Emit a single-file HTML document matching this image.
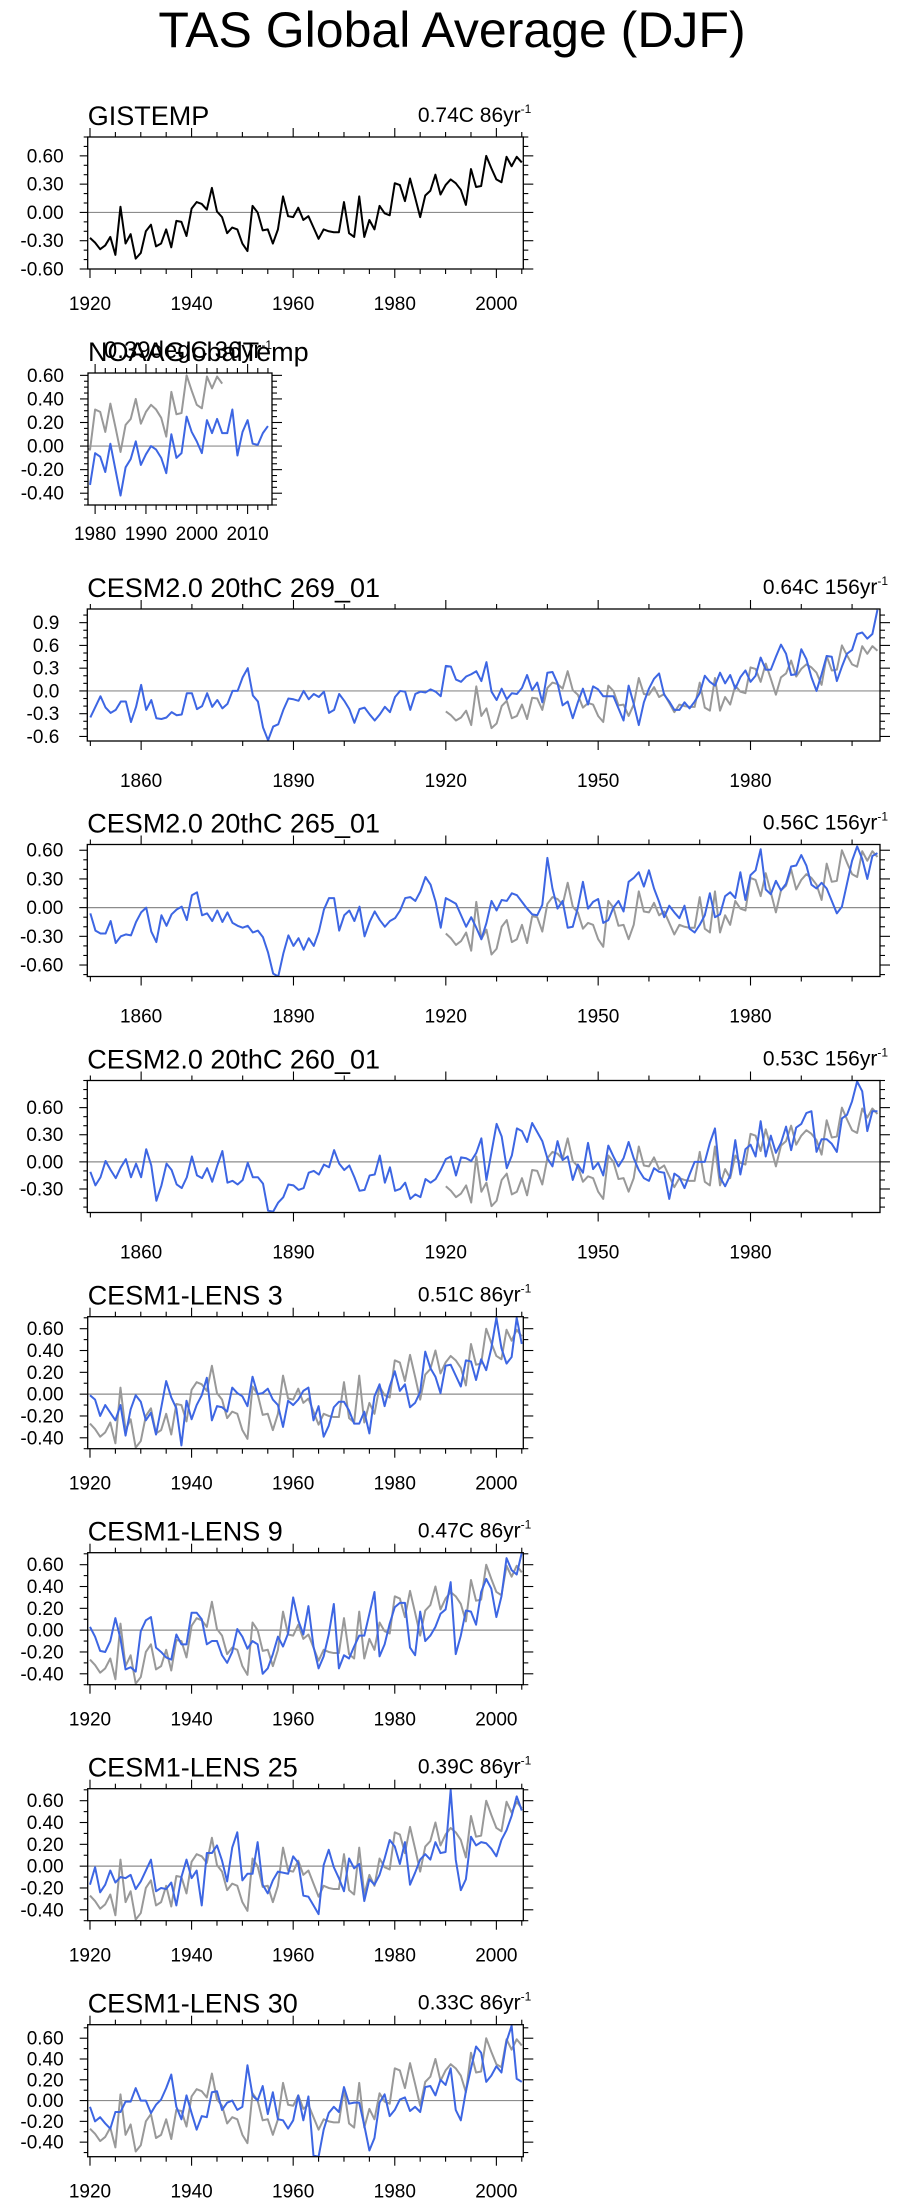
<!DOCTYPE html>
<html>
<head>
<meta charset="utf-8">
<style>
html,body{margin:0;padding:0;background:#fff;}
svg{display:block;font-family:"Liberation Sans",Arial,sans-serif;}
</style>
</head>
<body>
<svg id="chart" width="905" height="2207" viewBox="0 0 905 2207" xmlns="http://www.w3.org/2000/svg">
<text x="452" y="47" text-anchor="middle" font-size="50">TAS Global Average (DJF)</text>
</svg>
<script>
// ---------- data ----------
const gistempStart = 1920;
const gistemp = [-0.27,-0.32,-0.39,-0.35,-0.26,-0.45,0.06,-0.33,-0.23,-0.49,-0.43,-0.20,-0.13,-0.36,-0.33,-0.18,-0.37,-0.09,-0.10,-0.25,0.04,0.11,0.09,0.03,0.26,0.01,-0.05,-0.22,-0.16,-0.18,-0.33,-0.41,0.07,0.00,-0.19,-0.18,-0.33,-0.18,0.17,-0.04,-0.05,0.05,-0.08,-0.04,-0.16,-0.28,-0.18,-0.20,-0.21,-0.21,0.11,-0.22,-0.26,0.17,-0.26,-0.08,-0.18,0.07,-0.01,-0.03,0.31,0.29,0.12,0.36,0.16,-0.05,0.18,0.23,0.40,0.19,0.29,0.35,0.31,0.24,0.08,0.46,0.27,0.28,0.60,0.47,0.35,0.32,0.59,0.49,0.59,0.53];
const noaaStart = 1979;
const noaa = [-0.33,-0.06,-0.09,-0.22,0.02,-0.20,-0.42,-0.18,-0.11,0.04,-0.16,-0.07,0.00,-0.03,-0.10,-0.23,0.10,-0.10,-0.06,0.25,0.12,0.04,-0.06,0.22,0.11,0.23,0.11,0.11,0.31,-0.08,0.12,0.22,0.02,0.01,0.11,0.17];
const cesm2Start = 1850;
const cesm2_269 = [-0.35,-0.21,-0.07,-0.22,-0.29,-0.25,-0.14,-0.14,-0.41,-0.21,0.08,-0.25,-0.12,-0.36,-0.37,-0.35,-0.28,-0.32,-0.31,-0.03,-0.03,-0.24,-0.20,-0.03,-0.21,-0.12,-0.23,-0.17,0.00,0.00,0.18,0.30,-0.06,-0.14,-0.48,-0.65,-0.47,-0.44,-0.25,-0.10,-0.11,-0.13,0.00,-0.11,-0.04,-0.08,-0.01,-0.29,-0.25,-0.04,-0.13,-0.24,-0.42,-0.24,-0.22,-0.31,-0.39,-0.31,-0.21,-0.28,-0.08,0.00,-0.01,-0.25,-0.04,-0.01,-0.02,0.02,-0.01,-0.07,0.33,0.32,0.15,0.12,0.19,0.22,0.26,0.13,0.38,-0.01,-0.12,0.03,-0.11,-0.03,-0.04,0.04,0.21,0.01,0.11,-0.15,0.24,0.25,0.10,-0.19,-0.14,-0.36,-0.15,0.03,-0.18,0.06,0.02,-0.07,-0.07,-0.07,-0.23,-0.39,0.07,-0.17,-0.45,-0.15,0.03,0.16,0.23,-0.05,-0.14,-0.25,-0.25,-0.15,-0.23,-0.14,-0.03,0.20,0.12,0.07,0.24,0.10,0.21,0.03,0.18,0.27,0.12,0.20,0.44,0.28,0.28,0.45,0.61,0.49,0.21,0.22,0.55,0.42,0.18,0.00,0.22,0.46,0.45,0.13,0.32,0.49,0.54,0.75,0.77,0.69,0.75,1.07];
const cesm2_265 = [-0.06,-0.24,-0.27,-0.27,-0.14,-0.37,-0.30,-0.28,-0.29,-0.15,-0.05,0.00,-0.25,-0.36,-0.08,-0.19,-0.07,-0.02,0.01,-0.13,0.13,0.16,-0.08,-0.06,-0.14,-0.03,-0.15,-0.05,-0.16,-0.19,-0.21,-0.19,-0.26,-0.24,-0.31,-0.47,-0.69,-0.72,-0.48,-0.29,-0.40,-0.32,-0.44,-0.32,-0.40,-0.25,-0.02,0.10,0.10,-0.24,-0.08,-0.03,-0.14,0.01,-0.30,-0.15,-0.04,-0.13,-0.20,-0.14,-0.11,-0.03,0.10,0.11,0.07,0.17,0.32,0.24,0.06,-0.21,0.10,0.07,0.04,-0.08,-0.20,-0.10,-0.21,-0.33,-0.16,0.07,-0.03,0.08,0.07,0.15,0.13,0.06,-0.01,-0.07,-0.08,0.03,0.52,0.20,-0.01,0.07,-0.21,-0.20,0.00,0.27,-0.01,0.06,0.09,-0.16,-0.13,0.00,0.07,-0.04,0.27,0.31,0.37,0.22,0.39,0.20,0.06,-0.10,0.02,-0.05,-0.11,0.02,-0.22,-0.26,-0.18,-0.08,0.15,-0.10,-0.07,0.12,0.16,0.10,0.37,0.08,0.34,0.39,0.61,0.19,0.14,0.28,0.18,0.25,0.43,0.44,0.55,0.44,0.24,0.20,0.26,0.20,0.07,-0.06,0.01,0.25,0.49,0.64,0.51,0.30,0.54,0.57];
const cesm2_260 = [-0.11,-0.26,-0.17,0.01,-0.09,-0.18,-0.06,0.03,-0.17,-0.02,-0.17,0.14,-0.04,-0.43,-0.26,-0.02,-0.09,-0.25,-0.29,-0.17,0.06,-0.15,-0.18,-0.07,-0.22,-0.04,0.12,-0.23,-0.21,-0.25,-0.20,-0.01,-0.17,-0.17,-0.24,-0.54,-0.55,-0.45,-0.39,-0.25,-0.26,-0.31,-0.29,-0.12,-0.10,-0.14,-0.03,-0.06,0.13,-0.02,-0.09,-0.04,-0.17,-0.32,-0.31,-0.15,-0.14,0.07,-0.23,-0.06,-0.32,-0.30,-0.23,-0.41,-0.36,-0.39,-0.19,-0.23,-0.19,-0.09,0.03,0.06,-0.15,0.05,0.04,0.01,0.10,0.26,-0.20,0.11,0.42,0.28,-0.07,0.07,0.37,0.34,0.22,0.43,0.33,0.23,0.04,-0.05,0.23,0.02,0.06,-0.20,-0.03,-0.12,0.21,-0.08,-0.01,-0.15,0.18,0.06,-0.05,0.04,0.22,0.04,-0.09,-0.18,-0.21,-0.07,-0.11,-0.12,-0.41,-0.13,-0.17,-0.29,-0.14,0.00,0.00,0.00,0.21,0.37,-0.17,-0.27,-0.15,0.24,-0.14,0.14,0.19,0.06,0.45,0.06,0.29,0.10,0.21,0.39,0.13,0.38,0.42,0.54,0.56,0.11,0.25,0.25,0.20,0.11,0.48,0.52,0.67,0.89,0.78,0.34,0.56,0.56];
const lensStart = 1920;
const lens3 = [-0.01,-0.05,-0.20,-0.10,-0.17,-0.24,-0.10,-0.38,-0.14,-0.01,-0.07,-0.24,-0.17,-0.37,-0.13,0.12,-0.03,-0.13,-0.47,-0.06,-0.23,-0.10,-0.01,0.15,-0.24,-0.11,-0.12,-0.16,0.06,0.01,-0.02,-0.11,0.16,0.00,0.01,0.05,-0.05,-0.10,-0.30,-0.06,-0.10,-0.05,0.03,0.06,-0.24,-0.11,-0.39,-0.29,-0.12,-0.07,-0.07,-0.15,-0.27,-0.27,-0.16,-0.36,-0.02,0.09,-0.11,0.07,0.21,0.03,0.09,-0.12,-0.08,0.02,0.39,0.24,0.16,0.01,0.26,0.27,0.17,0.07,0.31,0.30,0.13,0.32,0.22,0.42,0.70,0.42,0.28,0.34,0.70,0.46];
const lens9 = [0.03,-0.06,-0.19,-0.20,-0.10,0.11,-0.08,-0.36,-0.34,-0.38,-0.01,0.09,0.12,-0.16,-0.20,-0.25,-0.27,-0.04,-0.13,-0.13,0.16,0.16,0.10,-0.13,-0.10,-0.10,-0.23,-0.30,-0.20,0.01,-0.06,-0.17,-0.10,-0.13,-0.40,-0.35,-0.22,-0.06,-0.15,-0.03,0.30,0.09,-0.04,0.22,-0.15,-0.35,-0.24,-0.04,0.24,-0.35,-0.23,-0.26,-0.15,-0.05,-0.05,0.15,0.35,-0.24,-0.13,0.06,0.21,0.25,0.25,-0.16,-0.23,0.17,-0.10,-0.05,0.03,0.15,0.19,0.44,-0.22,-0.05,0.18,0.17,0.05,0.35,0.47,0.38,0.12,0.31,0.66,0.55,0.51,0.71];
const lens25 = [-0.17,-0.01,-0.24,-0.17,-0.04,-0.15,-0.10,-0.11,-0.08,-0.21,-0.14,-0.04,0.06,-0.23,-0.20,-0.21,-0.15,-0.36,-0.10,0.06,-0.11,-0.04,-0.36,0.12,0.12,0.19,0.05,-0.14,0.17,0.31,-0.13,-0.07,-0.07,0.22,-0.17,-0.25,-0.13,-0.05,-0.06,-0.07,0.09,0.03,-0.27,-0.28,-0.36,-0.44,0.01,0.15,-0.01,-0.11,-0.23,0.07,-0.02,0.02,-0.32,-0.12,-0.17,-0.08,0.07,0.24,0.18,0.02,0.22,-0.17,-0.06,0.06,0.11,0.06,0.22,0.12,0.13,0.70,0.06,-0.22,-0.12,0.27,0.19,0.22,0.21,0.16,0.09,0.24,0.33,0.46,0.64,0.51];
const lens30 = [-0.06,-0.20,-0.16,-0.22,-0.27,-0.11,-0.11,-0.01,-0.01,0.12,0.00,0.00,-0.12,-0.04,0.01,0.12,0.25,-0.06,-0.18,0.05,-0.12,-0.28,-0.15,-0.16,0.08,0.09,-0.09,-0.02,0.00,-0.09,-0.06,0.34,0.05,0.00,0.14,-0.13,0.08,-0.18,-0.19,-0.27,-0.19,0.05,-0.19,0.04,-0.53,-0.54,-0.28,-0.12,-0.06,-0.11,0.13,-0.03,-0.02,-0.02,-0.24,-0.48,-0.36,-0.02,0.06,-0.15,-0.09,0.01,0.03,-0.10,-0.06,-0.11,0.13,0.14,0.05,0.20,0.15,0.31,-0.09,-0.19,0.09,0.31,0.52,0.46,0.18,0.24,0.33,0.27,0.57,0.72,0.21,0.18];

// tick labels
const yLab1 = ["0.60","0.30","0.00","-0.30","-0.60"];
const yLab2 = ["0.60","0.40","0.20","0.00","-0.20","-0.40"];
const yLab3 = ["0.9","0.6","0.3","0.0","-0.3","-0.6"];
const yLab4 = ["0.60","0.30","0.00","-0.30","-0.60"];
const yLab5 = ["0.60","0.30","0.00","-0.30"];
const yLabLens = ["0.60","0.40","0.20","0.00","-0.20","-0.40"];
const xLab86 = ["1920","1940","1960","1980","2000"];
const xLabNoaa = ["1980","1990","2000","2010"];
const xLab156 = ["1860","1890","1920","1950","1980"];

const BLUE = "#3d66e3", GRAY = "#999999", BLACK = "#000000";
const svg = document.getElementById('chart');
const NS = "http://www.w3.org/2000/svg";

function mk(tag, attrs, parent){
  const el = document.createElementNS(NS, tag);
  for (const k in attrs) el.setAttribute(k, attrs[k]);
  (parent || svg).appendChild(el);
  return el;
}

const panels = [
 {id:"gistemp", title:"GISTEMP", rt:"0.74C 86yr", rtSize:21, rtX:8, top:137, left:87.7, right:523.3, x0:1919.55, x1:2005.3, y0:-0.6, y1:0.8, yLab:yLab1, yMinor:0.1, xLab:xLab86, xMinor:5, lOff:34, yGap:24,
  series:[{start:gistempStart, vals:gistemp, color:BLACK, name:"gistemp-line"}]},
 {id:"noaa", title:"NOAAGlobalTemp", rt:"0.39degC 36yr", rtSize:24, rtX:0, top:373, left:88, right:272, x0:1978.6, x1:2014.8, y0:-0.5, y1:0.62, yLab:yLab2, yMinor:0.05, xLab:xLabNoaa, xMinor:2, lOff:28, yGap:24,
  series:[{start:gistempStart, vals:gistemp, color:GRAY, name:"gistemp-reference-line"},{start:noaaStart, vals:noaa, color:BLUE, name:"noaa-line"}]},
 {id:"cesm2-269", title:"CESM2.0 20thC 269_01", rt:"0.64C 156yr", rtSize:21, rtX:8, top:609, left:87.3, right:880, x0:1849.4, x1:2005.5, y0:-0.66, y1:1.08, yLab:yLab3, yMinor:0.1, xLab:xLab156, xMinor:10, lOff:39, yGap:28,
  series:[{start:gistempStart, vals:gistemp, color:GRAY, name:"gistemp-reference-line"},{start:cesm2Start, vals:cesm2_269, color:BLUE, name:"cesm2-269-line"}]},
 {id:"cesm2-265", title:"CESM2.0 20thC 265_01", rt:"0.56C 156yr", rtSize:21, rtX:8, top:844.5, left:87.3, right:880, x0:1849.4, x1:2005.5, y0:-0.72, y1:0.66, yLab:yLab4, yMinor:0.1, xLab:xLab156, xMinor:10, lOff:39, yGap:24,
  series:[{start:gistempStart, vals:gistemp, color:GRAY, name:"gistemp-reference-line"},{start:cesm2Start, vals:cesm2_265, color:BLUE, name:"cesm2-265-line"}]},
 {id:"cesm2-260", title:"CESM2.0 20thC 260_01", rt:"0.53C 156yr", rtSize:21, rtX:8, top:1080.5, left:87.3, right:880, x0:1849.4, x1:2005.5, y0:-0.56, y1:0.90, yLab:yLab5, yMinor:0.1, xLab:xLab156, xMinor:10, lOff:39, yGap:24,
  series:[{start:gistempStart, vals:gistemp, color:GRAY, name:"gistemp-reference-line"},{start:cesm2Start, vals:cesm2_260, color:BLUE, name:"cesm2-260-line"}]},
 {id:"lens3", title:"CESM1-LENS 3", rt:"0.51C 86yr", rtSize:21, rtX:8, top:1316.7, left:87.7, right:523.3, x0:1919.55, x1:2005.3, y0:-0.50, y1:0.71, yLab:yLabLens, yMinor:0.1, xLab:xLab86, xMinor:5, lOff:34, yGap:24,
  series:[{start:gistempStart, vals:gistemp, color:GRAY, name:"gistemp-reference-line"},{start:lensStart, vals:lens3, color:BLUE, name:"lens3-line"}]},
 {id:"lens9", title:"CESM1-LENS 9", rt:"0.47C 86yr", rtSize:21, rtX:8, top:1552.7, left:87.7, right:523.3, x0:1919.55, x1:2005.3, y0:-0.50, y1:0.71, yLab:yLabLens, yMinor:0.1, xLab:xLab86, xMinor:5, lOff:34, yGap:24,
  series:[{start:gistempStart, vals:gistemp, color:GRAY, name:"gistemp-reference-line"},{start:lensStart, vals:lens9, color:BLUE, name:"lens9-line"}]},
 {id:"lens25", title:"CESM1-LENS 25", rt:"0.39C 86yr", rtSize:21, rtX:8, top:1788.7, left:87.7, right:523.3, x0:1919.55, x1:2005.3, y0:-0.50, y1:0.71, yLab:yLabLens, yMinor:0.1, xLab:xLab86, xMinor:5, lOff:34, yGap:24,
  series:[{start:gistempStart, vals:gistemp, color:GRAY, name:"gistemp-reference-line"},{start:lensStart, vals:lens25, color:BLUE, name:"lens25-line"}]},
 {id:"lens30", title:"CESM1-LENS 30", rt:"0.33C 86yr", rtSize:21, rtX:8, top:2024.7, left:87.7, right:523.3, x0:1919.55, x1:2005.3, y0:-0.54, y1:0.73, yLab:yLabLens, yMinor:0.1, xLab:xLab86, xMinor:5, lOff:34, yGap:24,
  series:[{start:gistempStart, vals:gistemp, color:GRAY, name:"gistemp-reference-line"},{start:lensStart, vals:lens30, color:BLUE, name:"lens30-line"}]}
];

const H = 132;

panels.forEach(p => {
  const g = mk('g', {});
  
  
  const bottom = p.top + H;
  const xs = yr => p.left + (yr - p.x0) / (p.x1 - p.x0) * (p.right - p.left);
  const ys = v => bottom - (v - p.y0) / (p.y1 - p.y0) * H;

  // titles
  const t = mk('text', {x:p.left, y:p.top-12, 'font-size':27}, g);
  
  
  t.textContent = p.title;
  const rt = mk('text', {x:p.right+p.rtX, y:p.top-15, 'font-size':p.rtSize, 'text-anchor':'end'}, g);
  
  
  rt.appendChild(document.createTextNode(p.rt));
  const sup = mk('tspan', {dy:-9, 'font-size':12}, rt);
  sup.textContent = "-1";

  // clip
  const cp = mk('clipPath', {id:'clip-'+p.id}, g);
  mk('rect', {x:p.left, y:p.top, width:p.right-p.left, height:H}, cp);

  // zero line
  const z = mk('line', {x1:p.left, x2:p.right, y1:ys(0), y2:ys(0), stroke:'#8c8c8c', 'stroke-width':1.2}, g);
  
  

  // series
  p.series.forEach(s => {
    const pts = s.vals.map((v,i) => xs(s.start+i).toFixed(2) + ',' + ys(v).toFixed(2)).join(' ');
    const pl = mk('polyline', {points:pts, fill:'none', stroke:s.color, 'stroke-width':2, 'stroke-linejoin':'round', 'clip-path':'url(#clip-'+p.id+')'}, g);
    
    
  });

  // box
  const box = mk('rect', {x:p.left, y:p.top, width:p.right-p.left, height:H, fill:'none', stroke:'#000', 'stroke-width':1.3}, g);
  
  

  // x ticks
  const majYears = p.xLab.map(Number);
  const xStep = majYears[1] - majYears[0];
  const tg = mk('g', {stroke:'#000', 'stroke-width':1.1}, g);
  
  
  for (let yr = Math.ceil(p.x0 / p.xMinor) * p.xMinor; yr <= p.x1; yr += p.xMinor) {
    const isMaj = ((yr - majYears[0]) % xStep + xStep) % xStep === 0;
    const L = isMaj ? 9 : 5;
    const x = xs(yr);
    mk('line', {x1:x, x2:x, y1:p.top, y2:p.top-L}, tg);
    mk('line', {x1:x, x2:x, y1:bottom, y2:bottom+L}, tg);
  }
  p.xLab.forEach(lab => {
    const tx = mk('text', {x:xs(Number(lab)), y:bottom+p.lOff+7, 'font-size':19, 'text-anchor':'middle'}, g);
    
    
    tx.textContent = lab;
  });

  // y ticks
  const majVals = p.yLab.map(parseFloat);
  for (let k = Math.ceil(p.y0 / p.yMinor - 1e-6); k * p.yMinor <= p.y1 + 1e-6; k++) {
    const v = k * p.yMinor;
    const isMaj = majVals.some(m => Math.abs(m - v) < 1e-6);
    const y = ys(v);
    mk('line', {x1:p.left, x2:p.left-(isMaj?8:4), y1:y, y2:y}, tg);
    mk('line', {x1:p.right, x2:p.right+(isMaj?10:5), y1:y, y2:y}, tg);
  }
  p.yLab.forEach(lab => {
    const ty = mk('text', {x:p.left-p.yGap, y:ys(parseFloat(lab))+6.5, 'font-size':19, 'text-anchor':'end'}, g);
    
    
    ty.textContent = lab;
  });
});
</script>
</body>
</html>
